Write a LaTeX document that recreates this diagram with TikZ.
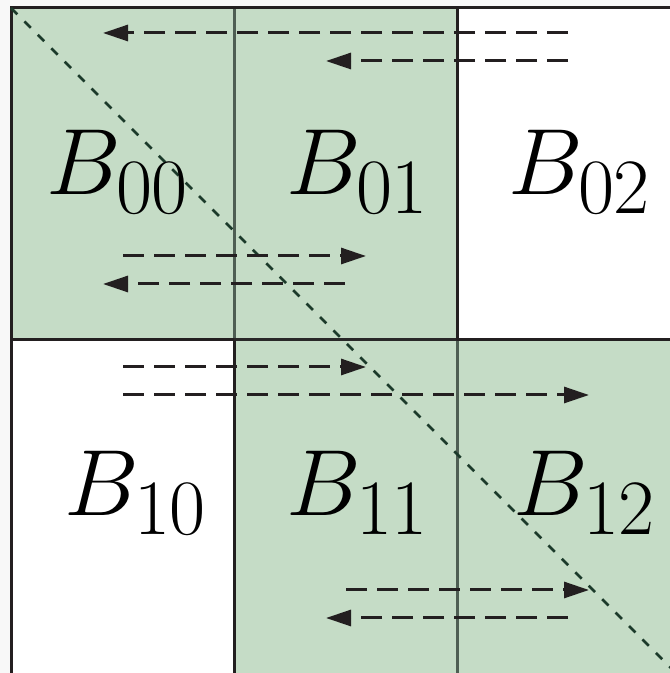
\documentclass[tikz,border=0pt]{standalone}
\usetikzlibrary{arrows.meta}
\definecolor{cellgreen}{RGB}{197,220,198}
\definecolor{softgray}{RGB}{78,94,83}
\definecolor{inkblack}{RGB}{35,31,32}
\definecolor{diagcol}{RGB}{27,58,42}
\definecolor{bggray}{RGB}{248,248,248}
\tikzset{
  greencell/.style={fill=cellgreen, draw=none},
  whitecell/.style={fill=white, draw=none},
  hardline/.style={draw=inkblack, line width=3pt},
  softline/.style={draw=softgray, line width=3pt},
  flowarrow/.style={draw=inkblack, line width=3pt, dash pattern=on 21pt off 10pt,
    -{Triangle[length=25pt,width=16pt]}},
  diagline/.style={draw=diagcol, line width=2.6pt, dash pattern=on 9pt off 10pt},
  blocklabel/.style={inner sep=0pt, anchor=base, font=\Huge, scale=3.78}
}
\begin{document}
\begin{tikzpicture}[x=1pt,y=1pt]
\useasboundingbox (0,0) rectangle (670,673);
\clip (0,0) rectangle (670,673);
\fill[bggray] (0,0) rectangle (670,673);
% cells
\path[greencell] (11,665) rectangle (234,333);
\path[greencell] (234,665) rectangle (457,333);
\path[whitecell] (457,665) rectangle (690,333);
\path[whitecell] (11,333) rectangle (234,-10);
\path[greencell] (234,333) rectangle (457,-10);
\path[greencell] (457,333) rectangle (690,-10);
% grid lines
\draw[softline] (234,665) -- (234,333);
\draw[softline] (457,333) -- (457,-10);
\draw[draw=inkblack!85!softgray, line width=3pt] (234,333) -- (457,333);
\draw[hardline] (234,333) -- (234,-10);
\draw[hardline] (457,665) -- (457,333);
\draw[hardline] (11,333) -- (234,333);
\draw[hardline] (457,333) -- (690,333);
\draw[hardline] (11,-10) -- (11,665) -- (690,665);
% diagonal
\coordinate (dA) at (11,665);
\coordinate (dB) at (676,0);
\draw[diagline] (dA) -- (dB);
% labels
\node[blocklabel] (b00) at (118,478) {$B_{00}$};
\node[blocklabel] (b01) at (358,478) {$B_{01}$};
\node[blocklabel] (b02) at (580,478) {$B_{02}$};
\node[blocklabel] (b10) at (136,157) {$B_{10}$};
\node[blocklabel] (b11) at (358,157) {$B_{11}$};
\node[blocklabel] (b12) at (585,157) {$B_{12}$};
% arrows
\coordinate (a1s) at (568,640); \coordinate (a1e) at (103,640);
\coordinate (a2s) at (568,612); \coordinate (a2e) at (326,612);
\coordinate (a3s) at (123,417); \coordinate (a3e) at (366,417);
\coordinate (a4s) at (345,389); \coordinate (a4e) at (103,389);
\coordinate (a5s) at (123,306); \coordinate (a5e) at (366,306);
\coordinate (a6s) at (123,278); \coordinate (a6e) at (589,278);
\coordinate (a7s) at (346,83);  \coordinate (a7e) at (589,83);
\coordinate (a8s) at (568,55);  \coordinate (a8e) at (326,55);
\draw[flowarrow] (a1s) -- (a1e);
\draw[flowarrow] (a2s) -- (a2e);
\draw[flowarrow] (a3s) -- (a3e);
\draw[flowarrow] (a4s) -- (a4e);
\draw[flowarrow] (a5s) -- (a5e);
\draw[flowarrow] (a6s) -- (a6e);
\draw[flowarrow] (a7s) -- (a7e);
\draw[flowarrow] (a8s) -- (a8e);
\end{tikzpicture}
\end{document}
